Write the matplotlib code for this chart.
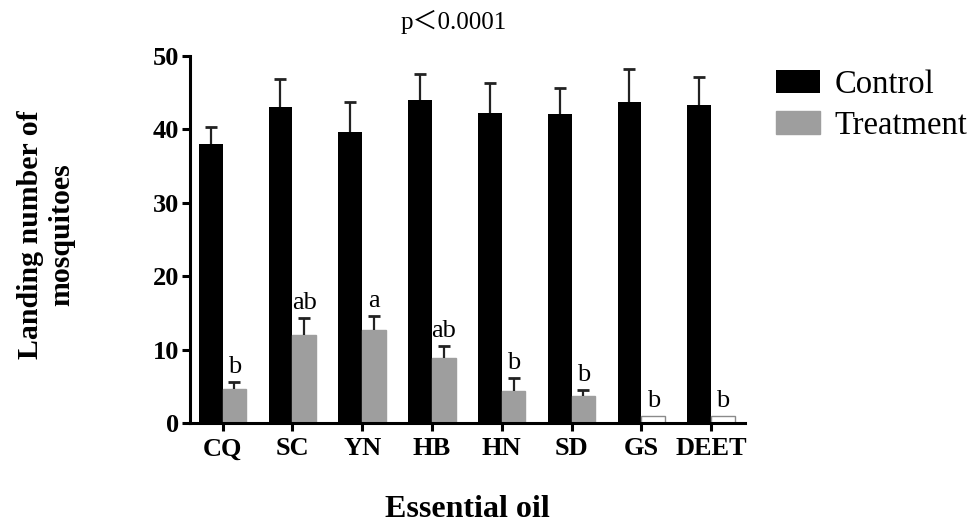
import numpy as np
import matplotlib.pyplot as plt

# data
oils = ['CQ', 'SC', 'YN', 'HB', 'HN', 'SD', 'GS', 'DEET']
control = [38.0, 43.0, 39.6, 44.0, 42.3, 42.1, 43.7, 43.3]
control_err = [2.3, 3.9, 4.1, 3.6, 4.0, 3.5, 4.5, 3.8]
treatment = [4.6, 12.0, 12.6, 8.9, 4.4, 3.7, 1.0, 1.0]
treatment_err = [1.0, 2.3, 1.9, 1.6, 1.7, 0.8, 0.0, 0.0]
letters = ['b', 'ab', 'a', 'ab', 'b', 'b', 'b', 'b']

plt.rcParams['font.family'] = ['Liberation Serif', 'Noto Sans CJK SC']

fig = plt.figure(figsize=(9.73, 5.24), dpi=100)
ax = fig.add_axes([0.195, 0.193, 0.571, 0.7])

x = np.arange(len(oils))
w = 0.34
grey = '#9e9e9e'
# empty treatment bars (GS, DEET) drawn white with a grey outline
t_face = [grey if v > 1.0 else 'white' for v in treatment]
t_edge = [grey if v > 1.0 else '#8a8a8a' for v in treatment]

ax.bar(x - w / 2, control, w, color='black', label='Control', zorder=2)
ax.bar(x + w / 2, treatment, w, color=t_face, edgecolor=t_edge, linewidth=1,
       label='Treatment', zorder=2)


def up_err(xs, ys, es):
    # upper error bar only, no cap at the bar top
    for xi, yi, ei in zip(xs, ys, es):
        if ei <= 0:
            continue
        ax.vlines(xi, yi, yi + ei, color='#222222', lw=1.6, zorder=3)
        ax.plot([xi], [yi + ei], marker='_', ms=8, mew=2, color='#222222', zorder=3)


up_err(x - w / 2, control, control_err)
up_err(x + w / 2, treatment, treatment_err)

for i in range(len(oils)):
    top = treatment[i] + treatment_err[i]
    ax.annotate(letters[i], (x[i] + w / 2, top), xytext=(0, 6.5),
                textcoords='offset points', ha='center', va='baseline', fontsize=19)

ax.set_ylim(0, 50)
ax.set_xlim(-0.47, 7.49)
ax.set_yticks([0, 10, 20, 30, 40, 50])
ax.set_xticks(x)
ax.set_xticklabels(oils)
for s in ['top', 'right']:
    ax.spines[s].set_visible(False)
for s in ['left', 'bottom']:
    ax.spines[s].set_linewidth(2.2)
ax.tick_params(axis='both', direction='out', length=5.5, width=2.2, labelsize=19)
ax.tick_params(axis='y', pad=2)
ax.tick_params(axis='x', pad=5)
for lab in ax.get_xticklabels() + ax.get_yticklabels():
    lab.set_fontweight('bold')

fig.text(0.047, 0.553, 'Landing number of\nmosquitoes', rotation=90, ha='center',
         va='center', fontsize=21.5, fontweight='bold', linespacing=1.2)
fig.text(0.48, 0.027, 'Essential oil', ha='center', va='center', fontsize=23,
         fontweight='bold')
fig.text(0.466, 0.958, 'p＜0.0001', ha='center', va='center', fontsize=18)

leg = fig.legend(loc='upper left', bbox_to_anchor=(0.798, 0.868), frameon=False,
                 fontsize=23.5, handlelength=1.33, handleheight=0.7, handletextpad=0.45,
                 labelspacing=0.33, borderpad=0, borderaxespad=0)
leg.legend_handles[1].set_facecolor(grey)
leg.legend_handles[1].set_edgecolor(grey)

fig.savefig('out.png', dpi=100)
